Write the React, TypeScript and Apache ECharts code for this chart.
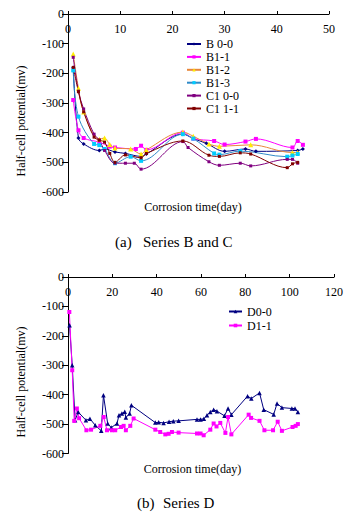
import React, { useEffect, useRef } from 'react';
import * as echarts from 'echarts';

const FONT = '"Liberation Serif", "Times New Roman", serif';

// ---------- (a) Series B and C ----------
const b00Days = [1, 2, 3, 6, 7, 9, 11, 14, 15, 22, 24, 26.5, 30, 34, 36, 44, 45];
const b00Vals = [-180, -418, -438, -460, -455, -465, -470, -480, -472, -405, -420, -436, -463, -455, -463, -460, -455];

const b11Days = [1, 2, 3, 6, 8, 9, 13, 14, 15, 22, 24, 28, 30, 34, 36, 43, 44, 45];
const b11Vals = [-290, -392, -418, -432, -447, -450, -455, -444, -458, -400, -420, -428, -440, -430, -421, -450, -428, -441];

const b12Days = [1, 2, 3, 6, 7, 8, 9, 12, 14, 15, 22, 24, 27, 29, 35, 43, 44];
const b12Vals = [-135, -250, -330, -422, -418, -440, -452, -455, -472, -458, -398, -412, -438, -446, -441, -467, -467];

const b13Days = [1, 2, 5, 6, 7, 9, 12, 14, 22, 24, 28, 29, 33, 42, 43, 44];
const b13Vals = [-190, -346, -438, -442, -455, -503, -481, -495, -405, -420, -470, -474, -462, -481, -477, -472];

const c100Days = [1, 2, 3, 5, 6, 7, 9, 11, 12.7, 14, 22, 23, 27, 29, 33, 35, 42, 43, 44];
const c100Vals = [-146, -260, -320, -405, -425, -460, -503, -503, -503, -523, -430, -450, -498, -510, -503, -512, -490, -490, -503];

const c111Days = [1, 2, 3, 5, 6, 7, 8, 9, 11, 14, 15, 22, 27, 29, 33, 35, 42, 43, 44];
const c111Vals = [-180, -262, -330, -415, -425, -432, -470, -500, -475, -485, -470, -428, -476, -480, -468, -472, -518, -505, -500];

// ---------- (b) Series D ----------
const d00Days = [0.7, 1.9, 3.2, 4.6, 8.1, 9.9, 12.3, 15, 16, 17.9, 19.5, 22.1, 23, 24.3, 25.6, 26.1, 27.8, 28.6, 39.4, 40.9, 43.1, 45.6, 47.5, 49.9, 58.2, 59.8, 61.3, 62.7, 64.2, 65.7, 67.2, 70.6, 72.2, 73.7, 81, 82.7, 86.4, 88.3, 92.8, 94.3, 96.5, 101, 102.4, 103.7];
const d00Vals = [-164, -300, -487, -459, -487, -482, -504, -523, -402, -498, -512, -498, -470, -464, -458, -478, -464, -436, -495, -494, -496, -492, -490, -489, -484, -484, -482, -470, -459, -451, -456, -472, -447, -468, -405, -413, -394, -451, -467, -430, -444, -447, -447, -459];

const d11Days = [0.6, 1.9, 2.8, 4, 5, 8.3, 10.4, 14.6, 16.1, 17.6, 19.8, 21.3, 23.9, 25.1, 26.1, 28.1, 29.6, 39.4, 41.6, 43.9, 45.4, 46.9, 49.9, 58.2, 59.8, 61.2, 64.2, 65.7, 67, 68.7, 71, 72.2, 73.7, 81.5, 82.6, 86.4, 88.6, 92.5, 94.6, 96.5, 101.3, 102.7, 103.7];
const d11Vals = [-119, -317, -489, -447, -480, -521, -519, -506, -476, -521, -521, -521, -510, -506, -521, -506, -481, -519, -527, -535, -533, -527, -529, -532, -532, -538, -519, -498, -508, -496, -530, -476, -535, -468, -479, -489, -521, -521, -492, -523, -510, -506, -500];

const topNames = ['B 0-0', 'B1-1', 'B1-2', 'B1-3', 'C1 0-0', 'C1 1-1'];
const bottomNames = ['D0-0', 'D1-1'];

const topXRange = { min: 0, max: 50, interval: 10 };
const bottomXRange = { min: 0, max: 120, interval: 20 };
const yRange = { min: -600, max: 0, interval: 100 };

const zip = (d: number[], v: number[]) => d.map((x, i) => [x, v[i]]);

function mkSeries(
  name: string, days: number[], vals: number[], idx: number,
  line: string, marker: string, symbol: string, size: number, smooth: number | boolean
) {
  return {
    type: 'line',
    name,
    xAxisIndex: idx,
    yAxisIndex: idx,
    data: zip(days, vals),
    smooth,
    symbol,
    symbolSize: size,
    showSymbol: true,
    itemStyle: { color: marker, borderWidth: 0 },
    lineStyle: { color: line, width: 1 },
    emphasis: { disabled: true },
  };
}

function xAxis(grid: number, r: { min: number; max: number; interval: number }) {
  return {
    gridIndex: grid,
    type: 'value',
    position: 'top',
    min: r.min,
    max: r.max,
    interval: r.interval,
    axisLine: { show: true, onZero: false, lineStyle: { color: '#000', width: 1 } },
    axisTick: { show: true, inside: false, length: 3, lineStyle: { color: '#000' } },
    axisLabel: { inside: true, margin: 9, color: '#000', fontFamily: FONT, fontSize: 12 },
    splitLine: { show: false },
  };
}

function yAxis(grid: number) {
  return {
    gridIndex: grid,
    type: 'value',
    min: yRange.min,
    max: yRange.max,
    interval: yRange.interval,
    axisLine: { show: true, onZero: false, lineStyle: { color: '#000', width: 1 } },
    axisTick: { show: true, length: 6, lineStyle: { color: '#000' } },
    axisLabel: { margin: 4, color: '#000', fontFamily: FONT, fontSize: 12 },
    splitLine: { show: false },
  };
}

function txt(text: string, x: number, y: number, size: number, align: string, rotation = 0) {
  return {
    type: 'text',
    x,
    y,
    rotation,
    silent: true,
    style: { text, fontFamily: FONT, fontSize: size, fill: '#000', align, verticalAlign: 'middle' },
  };
}

export default function App() {
  const ref = useRef<HTMLDivElement>(null);
  useEffect(() => {
    if (!ref.current) return;
    const chart = echarts.init(ref.current, undefined, { renderer: 'svg' });
    chart.setOption({
      animation: false,
      backgroundColor: '#fff',
      grid: [
        { left: 68, top: 14, width: 261, height: 178 },
        { left: 68, top: 277, width: 266, height: 176.5 },
      ],
      xAxis: [xAxis(0, topXRange), xAxis(1, bottomXRange)],
      yAxis: [yAxis(0), yAxis(1)],
      legend: [
        {
          data: topNames,
          orient: 'vertical',
          left: 186,
          top: 38,
          padding: 0,
          itemWidth: 14,
          itemHeight: 4,
          itemGap: 0.9,
          selectedMode: false,
          textStyle: { fontFamily: FONT, fontSize: 12, color: '#000', lineHeight: 12 },
        },
        {
          data: bottomNames,
          orient: 'vertical',
          left: 228,
          top: 305.5,
          padding: 0,
          itemWidth: 13,
          itemHeight: 4.5,
          itemGap: 2,
          selectedMode: false,
          textStyle: { fontFamily: FONT, fontSize: 12, color: '#000', lineHeight: 12 },
        },
      ],
      series: [
        mkSeries(topNames[0], b00Days, b00Vals, 0, '#000080', '#000080', 'diamond', 4, 0.35),
        mkSeries(topNames[1], b11Days, b11Vals, 0, '#FF00FF', '#FF00FF', 'rect', 4, 0.35),
        mkSeries(topNames[2], b12Days, b12Vals, 0, '#E8873A', '#FFEE00', 'triangle', 5, 0.35),
        mkSeries(topNames[3], b13Days, b13Vals, 0, '#2F8AC8', '#00CCFF', 'rect', 4, 0.35),
        mkSeries(topNames[4], c100Days, c100Vals, 0, '#800080', '#800080', 'rect', 3, 0.35),
        mkSeries(topNames[5], c111Days, c111Vals, 0, '#800000', '#800000', 'rect', 3, 0.35),
        mkSeries(bottomNames[0], d00Days, d00Vals, 1, '#000080', '#000080', 'triangle', 4.5, false),
        mkSeries(bottomNames[1], d11Days, d11Vals, 1, '#FF00FF', '#FF00FF', 'rect', 4, false),
      ],
      graphic: [
        txt('Half-cell potential(mv)', 21, 121, 12, 'center', Math.PI / 2),
        txt('Corrosion time(day)', 193, 207, 12, 'center'),
        txt('(a)', 115, 242, 15, 'left'),
        txt('Series B and C', 143, 242, 15, 'left'),
        txt('Half-cell potential(mv)', 21, 382, 12, 'center', Math.PI / 2),
        txt('Corrosion time(day)', 192.5, 469, 12, 'center'),
        txt('(b)', 137, 503, 15, 'left'),
        txt('Series D', 163, 503, 15, 'left'),
      ],
    });
    return () => chart.dispose();
  }, []);
  return (
    <div
      ref={ref}
      style={{ position: 'absolute', left: 0, top: 0, width: 351, height: 516 }}
    />
  );
}
